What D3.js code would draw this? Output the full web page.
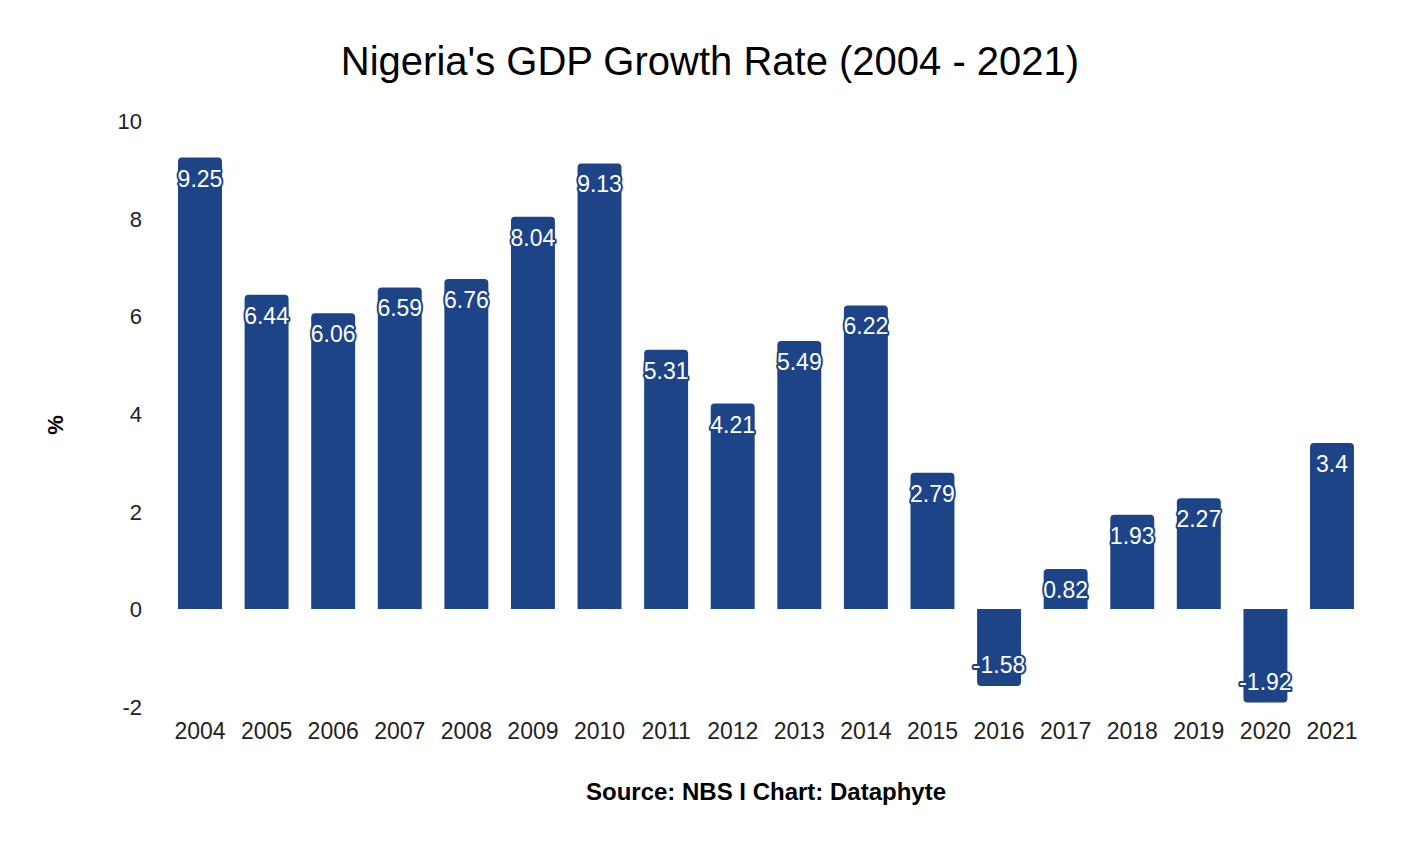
<!DOCTYPE html>
<html>
<head>
<meta charset="utf-8">
<script src="https://cdn.jsdelivr.net/npm/d3@7"></script>
<style>
  html, body { margin: 0; padding: 0; background: #fff; }
  svg text { font-family: "Liberation Sans", Arial, sans-serif; }
</style>
</head>
<body>
<svg id="chart" width="1420" height="846"></svg>
<script>
const years = ["2004","2005","2006","2007","2008","2009","2010","2011","2012","2013","2014","2015","2016","2017","2018","2019","2020","2021"];
const growth = [9.25, 6.44, 6.06, 6.59, 6.76, 8.04, 9.13, 5.31, 4.21, 5.49, 6.22, 2.79, -1.58, 0.82, 1.93, 2.27, -1.92, 3.4];
const yTicks = [-2, 0, 2, 4, 6, 8, 10];
const titleText = "Nigeria's GDP Growth Rate (2004 - 2021)";
const sourceText = "Source: NBS I Chart: Dataphyte";
const yLabel = "%";

const data = years.map((y, i) => ({ year: y, value: growth[i] }));
const barColor = "#1d4487";

const svg = d3.select("#chart");
const x = d3.scaleBand().domain(years).range([166.7, 1365.3]).paddingInner(0.34).paddingOuter(0.17);
const y = d3.scaleLinear().domain([-2, 10]).range([706.5, 121]);

const r = 4;
function barPath(d) {
  const x0 = x(d.year), w = x.bandwidth();
  const y0 = y(0), y1 = y(d.value);
  if (d.value >= 0) {
    return `M${x0},${y0}V${y1 + r}Q${x0},${y1} ${x0 + r},${y1}H${x0 + w - r}Q${x0 + w},${y1} ${x0 + w},${y1 + r}V${y0}Z`;
  } else {
    return `M${x0},${y0}V${y1 - r}Q${x0},${y1} ${x0 + r},${y1}H${x0 + w - r}Q${x0 + w},${y1} ${x0 + w},${y1 - r}V${y0}Z`;
  }
}

svg.append("g").selectAll("path").data(data).join("path")
  .attr("d", barPath).attr("fill", barColor);

svg.append("g").selectAll("text").data(data).join("text")
  .attr("x", d => x(d.year) + x.bandwidth() / 2)
  .attr("y", d => d.value >= 0 ? y(d.value) + 21 : y(d.value) - 21)
  .attr("dominant-baseline", "central")
  .attr("text-anchor", "middle")
  .attr("font-size", 23)
  .attr("fill", "#fff")
  .attr("stroke", barColor)
  .attr("stroke-width", 4)
  .attr("paint-order", "stroke")
  .attr("stroke-linejoin", "round")
  .text(d => String(d.value));

const yAxis = d3.axisLeft(y).tickValues(yTicks).tickSize(0).tickPadding(0).tickFormat(d => String(d));
const gy = svg.append("g").attr("transform", "translate(142,0)").call(yAxis);
gy.select(".domain").remove();
gy.selectAll("text").attr("font-size", 22).attr("fill", "#222").attr("font-family", "Liberation Sans, Arial, sans-serif").attr("dy", "0.35em");

const xAxis = d3.axisBottom(x).tickSize(0).tickPadding(0);
const gx = svg.append("g").attr("transform", "translate(0,731)").call(xAxis);
gx.select(".domain").remove();
gx.selectAll("text").attr("font-size", 23).attr("fill", "#222").attr("font-family", "Liberation Sans, Arial, sans-serif").attr("dy", "0.35em");

svg.append("text").attr("x", 710).attr("y", 61).attr("text-anchor", "middle")
  .attr("dominant-baseline", "central").attr("font-size", 40).attr("fill", "#000").text(titleText);

svg.append("text").attr("x", 766).attr("y", 791).attr("text-anchor", "middle")
  .attr("dominant-baseline", "central").attr("font-size", 24).attr("font-weight", "bold").attr("fill", "#000").text(sourceText);

svg.append("text").attr("transform", "translate(55,425) rotate(-90)").attr("text-anchor", "middle")
  .attr("dominant-baseline", "central").attr("font-size", 22).attr("font-weight", "bold").attr("fill", "#000").text(yLabel);
</script>
</body>
</html>
